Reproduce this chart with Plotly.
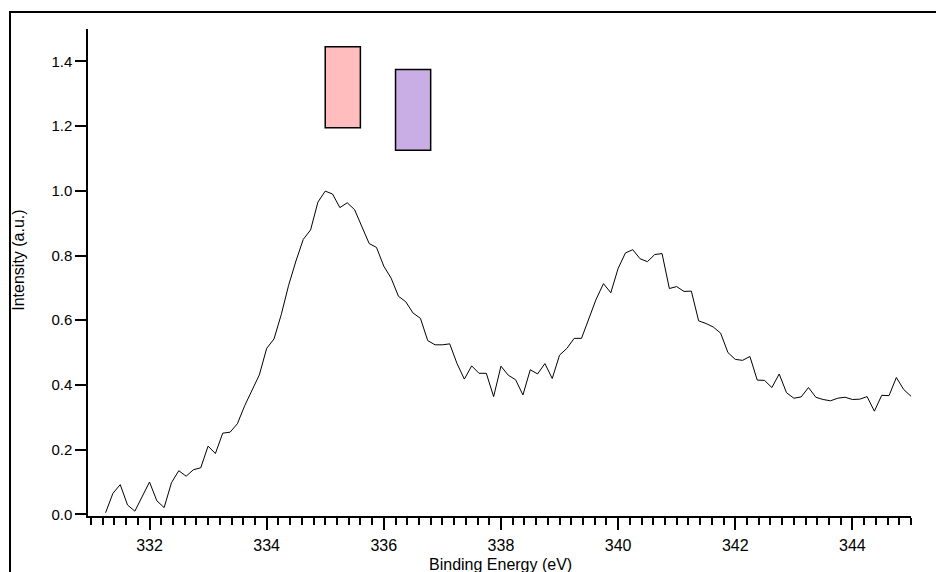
import plotly.graph_objects as go

# ---- data ----
binding_energy = [
    331.250, 331.375, 331.500, 331.625, 331.750, 331.875, 332.000, 332.125, 332.250, 332.375,
    332.500, 332.625, 332.750, 332.875, 333.000, 333.125, 333.250, 333.375, 333.500, 333.625,
    333.750, 333.875, 334.000, 334.125, 334.250, 334.375, 334.500, 334.625, 334.750, 334.875,
    335.000, 335.125, 335.250, 335.375, 335.500, 335.625, 335.750, 335.875, 336.000, 336.125,
    336.250, 336.375, 336.500, 336.625, 336.750, 336.875, 337.000, 337.125, 337.250, 337.375,
    337.500, 337.625, 337.750, 337.875, 338.000, 338.125, 338.250, 338.375, 338.500, 338.625,
    338.750, 338.875, 339.000, 339.125, 339.250, 339.375, 339.500, 339.625, 339.750, 339.875,
    340.000, 340.125, 340.250, 340.375, 340.500, 340.625, 340.750, 340.875, 341.000, 341.125,
    341.250, 341.375, 341.500, 341.625, 341.750, 341.875, 342.000, 342.125, 342.250, 342.375,
    342.500, 342.625, 342.750, 342.875, 343.000, 343.125, 343.250, 343.375, 343.500, 343.625,
    343.750, 343.875, 344.000, 344.125, 344.250, 344.375, 344.500, 344.625, 344.750, 344.875,
    345.000,
]
intensity = [
    0.005, 0.065, 0.092, 0.029, 0.010, 0.056, 0.100, 0.042, 0.021, 0.098,
    0.135, 0.118, 0.138, 0.144, 0.211, 0.188, 0.251, 0.254, 0.280, 0.336,
    0.383, 0.431, 0.513, 0.542, 0.618, 0.708, 0.783, 0.850, 0.879, 0.965,
    0.999, 0.990, 0.948, 0.963, 0.942, 0.892, 0.837, 0.825, 0.767, 0.730,
    0.674, 0.657, 0.622, 0.606, 0.537, 0.524, 0.524, 0.527, 0.466, 0.418,
    0.459, 0.436, 0.436, 0.364, 0.458, 0.430, 0.416, 0.369, 0.447, 0.434,
    0.466, 0.420, 0.492, 0.513, 0.544, 0.544, 0.605, 0.665, 0.713, 0.685,
    0.760, 0.808, 0.818, 0.790, 0.781, 0.803, 0.806, 0.698, 0.704, 0.689,
    0.690, 0.598, 0.590, 0.579, 0.560, 0.500, 0.479, 0.476, 0.488, 0.415,
    0.414, 0.392, 0.434, 0.376, 0.359, 0.363, 0.392, 0.362, 0.355, 0.351,
    0.359, 0.362, 0.355, 0.356, 0.364, 0.319, 0.368, 0.367, 0.423, 0.386,
    0.365,
]

# marker boxes (energy range, intensity range, colour)
box_x0 = [335.0, 336.2]
box_x1 = [335.6, 336.8]
box_y0 = [1.195, 1.125]
box_y1 = [1.445, 1.375]
box_colors = ["#FFBDBD", "#C9AEE5"]

x_tick_vals = [332, 334, 336, 338, 340, 342, 344]
y_tick_vals = [0.0, 0.2, 0.4, 0.6, 0.8, 1.0, 1.2, 1.4]

# ---- layout geometry ----
W, H = 936, 572
ML, MR, MT, MB = 88, 25, 29, 55.5
pw = W - ML - MR
ph = H - MT - MB


def px2paper_x(px):
    return (px - ML) / pw


def px2paper_y(py):
    return (H - MB - py) / ph


FONT = "Arial, Liberation Sans, sans-serif"

fig = go.Figure()
fig.add_trace(go.Scatter(
    x=binding_energy, y=intensity, mode="lines",
    line=dict(color="black", width=1), showlegend=False,
))

shapes = []
for x0, x1, y0, y1, c in zip(box_x0, box_x1, box_y0, box_y1, box_colors):
    shapes.append(dict(type="rect", xref="x", yref="y", x0=x0, x1=x1, y0=y0, y1=y1,
                       fillcolor=c, line=dict(color="black", width=1.5), layer="above"))

# outer frame: top and left edges as one open path
fx0, fy0 = px2paper_x(10), px2paper_y(12)
fx1, fy1 = px2paper_x(W + 10), px2paper_y(H + 10)
shapes.append(dict(type="path", xref="paper", yref="paper",
                   path=f"M {fx1},{fy0} L {fx0},{fy0} L {fx0},{fy1}",
                   line=dict(color="black", width=2)))

fig.update_layout(
    width=W, height=H,
    margin=dict(l=ML, r=MR, t=MT, b=MB, pad=0),
    paper_bgcolor="white", plot_bgcolor="white",
    font=dict(family=FONT, size=15, color="black"),
    shapes=shapes,
    annotations=[
        dict(text="Binding Energy (eV)", xref="paper", yref="paper",
             x=px2paper_x(500), y=px2paper_y(565), xanchor="center", yanchor="middle",
             showarrow=False, font=dict(family=FONT, size=16, color="black")),
        dict(text="Intensity (a.u.)", xref="paper", yref="paper",
             x=px2paper_x(19), y=px2paper_y(261), xanchor="center", yanchor="middle",
             textangle=-90, showarrow=False, font=dict(family=FONT, size=16, color="black")),
    ],
)

fig.update_xaxes(
    range=[330.95, 345.0], showgrid=False, zeroline=False,
    showline=True, linecolor="black", linewidth=1.5,
    ticks="outside", ticklen=12, tickwidth=1.5, tickcolor="black",
    tickvals=x_tick_vals, ticktext=[str(v) for v in x_tick_vals],
    tickfont=dict(family=FONT, size=16),
    ticklabelstandoff=2,
    minor=dict(ticks="outside", ticklen=7, tickwidth=1.5, tickcolor="black",
               dtick=0.2, tick0=331.0, showgrid=False),
)
fig.update_yaxes(
    range=[-0.005, 1.5], showgrid=False, zeroline=False,
    showline=True, linecolor="black", linewidth=1.5,
    ticks="outside", ticklen=11, tickwidth=1.5, tickcolor="black",
    tickvals=y_tick_vals, ticktext=[f"{v:.1f}" for v in y_tick_vals],
    tickfont=dict(family=FONT, size=15),
)

fig.write_html(
    "out.html",
    config={"displayModeBar": False},
    post_script=(
        "document.documentElement.style.overflow='hidden';"
        "document.body.style.overflow='hidden';"
        "document.body.style.margin='0';"
    ),
)
